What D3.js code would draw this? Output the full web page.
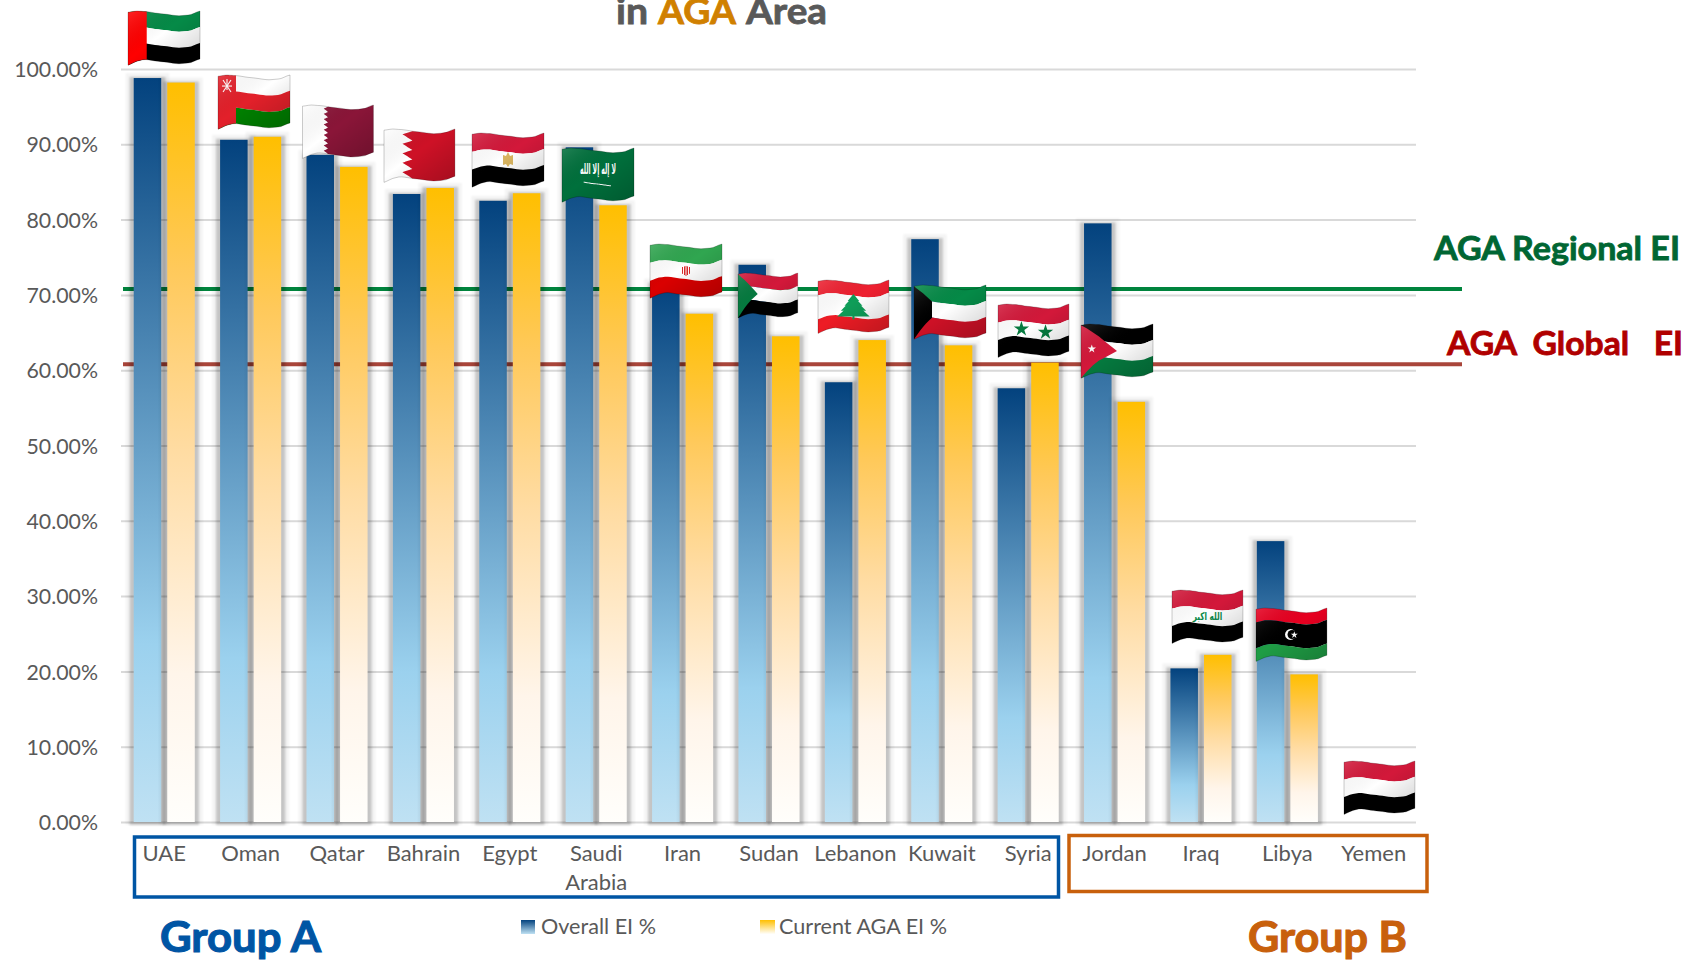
<!DOCTYPE html>
<html><head><meta charset="utf-8">
<script src="https://cdn.jsdelivr.net/npm/d3@7"></script>
<style>html,body{margin:0;background:#fff;overflow:hidden}svg{display:block}text{font-family:Lato,"Open Sans",sans-serif}</style>
</head><body><div id="chart"></div>
<script>
const countries=["UAE","Oman","Qatar","Bahrain","Egypt","Saudi Arabia","Iran","Sudan","Lebanon","Kuwait","Syria","Jordan","Iraq","Libya","Yemen"];
const overallEI=[98.8,90.6,88.6,83.4,82.5,89.6,71.5,74,58.4,77.4,57.6,79.5,20.4,37.3,0];
const currentAGA=[98.2,91,87,84.2,83.5,81.9,67.5,64.5,64,63.3,61,55.8,22.2,19.6,0];
const seriesNames=["Overall EI %","Current AGA EI %"];
const yTicks=[0,10,20,30,40,50,60,70,80,90,100];
const regionalEI=70.8, globalEI=60.8;

const svg=d3.select("#chart").append("svg").attr("width",1690).attr("height",960);
const defs=svg.append("defs");
const x=d3.scaleBand().domain(countries).range([121,1417]).paddingInner(0.293).paddingOuter(0.147);
const inner=d3.scaleBand().domain(seriesNames).range([0,x.bandwidth()]).paddingInner(0.18);
const y=d3.scaleLinear().domain([0,100]).range([822,69]);
const GREY="#595959";

function grad(id,stops,bbox){const g=defs.append("linearGradient").attr("id",id).attr("x1",bbox?bbox[0]:0).attr("y1",bbox?bbox[1]:0).attr("x2",bbox?bbox[2]:0).attr("y2",bbox?bbox[3]:1);
 stops.forEach(s=>g.append("stop").attr("offset",s[0]).attr("stop-color",s[1]).attr("stop-opacity",s[2]===undefined?1:s[2]));}
grad("gBlue",[[0,"#03427e"],[.76,"#9bd1ee"],[1,"#bfe1f3"]]);
grad("gOrange",[[0,"#ffbf00"],[.25,"#ffc95a"],[.5,"#ffdca3"],[.8,"#fff5ea"],[1,"#fffefb"]]);
grad("gShade",[[0,"#ffffff",.14],[.45,"#000",0],[1,"#000",.2]],[0,0,1,1]);
defs.append("filter").attr("id","soft").attr("x","-50%").attr("width","200%").attr("y","-5%").attr("height","110%").append("feGaussianBlur").attr("stdDeviation",0.9);

// gridlines and value axis
const axis=d3.axisLeft(y).tickValues(yTicks).tickFormat(d=>d.toFixed(2)+"%").tickSize(-(1416-121)).tickPadding(23);
const gA=svg.append("g").attr("transform","translate(121,0)").call(axis);
gA.select(".domain").remove();
gA.selectAll("line").attr("stroke","#d9d9d9").attr("stroke-width",2);
gA.selectAll("text").attr("fill",GREY).style("font-size","21.3px").attr("dy","0.36em").attr("x",-23);

// reference lines
[[regionalEI,"#00843d"],[globalEI,"#a9453a"]].forEach(([v,c])=>svg.append("line").attr("x1",123).attr("x2",1462).attr("y1",y(v)).attr("y2",y(v)).attr("stroke",c).attr("stroke-width",4));

// bars
seriesNames.forEach((name,si)=>{
 const vals=si?currentAGA:overallEI;
 const rows=countries.map((c,i)=>({c,v:vals[i]})).filter(d=>d.v>0);
 const gg=svg.append("g");
 gg.selectAll(".s2").data(rows).join("rect").attr("x",d=>x(d.c)+inner(name)-8).attr("width",inner.bandwidth()+16).attr("y",d=>y(d.v)-5).attr("height",d=>y(0)-y(d.v)+8).attr("fill","#000").attr("opacity",.045).attr("filter","url(#soft)");
 gg.selectAll(".s1").data(rows).join("rect").attr("x",d=>x(d.c)+inner(name)-4).attr("width",inner.bandwidth()+8).attr("y",d=>y(d.v)-1).attr("height",d=>y(0)-y(d.v)+4).attr("fill","#000").attr("opacity",.19).attr("filter","url(#soft)");
 gg.selectAll(".b").data(rows).join("rect").attr("x",d=>x(d.c)+inner(name)).attr("width",inner.bandwidth()).attr("y",d=>y(d.v)).attr("height",d=>y(0)-y(d.v)).attr("fill",si?"url(#gOrange)":"url(#gBlue)");
});

// category labels
const lab=svg.append("g").selectAll("text").data(countries).join("text").attr("text-anchor","middle").attr("fill",GREY).style("font-size","22px");
lab.each(function(d){const t=d3.select(this);d.split(" ").forEach((w,i)=>t.append("tspan").attr("x",x(d)+x.bandwidth()/2).attr("y",861+i*28.5).text(w));});

// group boxes
svg.append("rect").attr("x",134.5).attr("y",837).attr("width",924).attr("height",60).attr("fill","none").attr("stroke","#0055a4").attr("stroke-width",3.5);
svg.append("rect").attr("x",1069).attr("y",835.5).attr("width",358).attr("height",56).attr("fill","none").attr("stroke","#c8600c").attr("stroke-width",3.5);

function fit(xp,yp,w,str,size,color,heavy){const t=svg.append("text").attr("x",xp).attr("y",yp).attr("textLength",w).attr("lengthAdjust","spacingAndGlyphs").attr("fill",color).attr("font-weight",heavy?700:400).style("font-size",size+"px").style("white-space","pre").text(str);
 if(heavy)t.attr("stroke",color).attr("stroke-width",heavy);return t;}
// title
fit(616,24,32,"in",36,GREY,.8);
fit(658,24,78,"AGA",36,"#d08000",.8);
fit(746,24,81,"Area",36,GREY,.8);
fit(1434,260,246,"AGA Regional EI",32,"#006633",.8);
fit(1447,355,236,"AGA  Global   EI",32,"#b00000",.8);
fit(160,952,161,"Group A",42,"#0055a4",1.1);
fit(1248,952,159,"Group B",42,"#c8600c",1.1);

// legend
grad("lgB",[[0,"#03427e"],[1,"#bfe1f3"]]);grad("lgO",[[0,"#ffbf00"],[1,"#fffefb"]]);
svg.append("rect").attr("x",521).attr("y",920).attr("width",14).attr("height",14).attr("fill","url(#lgB)");
svg.append("rect").attr("x",760).attr("y",920).attr("width",15).attr("height",14).attr("fill","url(#lgO)");
fit(541,934,115,seriesNames[0],21,GREY);
fit(779,934,168,seriesNames[1],21,GREY);

// flags (decorative pictures)
const W=72,BH=48;
function wave(t){const pts=[[0,1.2],[.12,0],[.25,.6],[.45,2.6],[.7,4.8],[.85,4],[1,0]];
 let i=0;while(i<pts.length-2&&t>pts[i+1][0])i++;const [a,b]=[pts[i],pts[i+1]];const u=(t-a[0])/(b[0]-a[0]);const s=u*u*(3-2*u);return a[1]+(b[1]-a[1])*(.5*u+.5*s);}
const P=(t,f)=>[t*W,f*BH+wave(t)+f*Math.max(0,5*(1-t/.22))];
const ln=d3.line();
function band(f0,f1,t0=0,t1=1){const a=[];for(let i=0;i<=24;i++){a.push(P(t0+(t1-t0)*i/24,f0));}for(let i=24;i>=0;i--){a.push(P(t0+(t1-t0)*i/24,f1));}return ln(a)+"Z";}
function poly(pts){const a=[];pts.forEach((p,i)=>{const q=pts[(i+1)%pts.length];for(let k=0;k<6;k++)a.push(P(p[0]+(q[0]-p[0])*k/6,p[1]+(q[1]-p[1])*k/6));});return ln(a)+"Z";}
const R="#ce1126",K="#000",Wh="#fff";
function serr(x0,amp,n){const l=[[0,0],[x0+amp,0]];for(let i=0;i<n;i++){l.push([x0,(i+.5)/n]);l.push([x0+amp,(i+1)/n]);}l.push([0,1]);return l;}
function star(g,t,f,size,col){const [a,b]=P(t,f);g.append("path").attr("d",d3.symbol(d3.symbolStar,size)()).attr("transform",`translate(${a},${b})`).attr("fill",col);}
function word(g,t,f,s,size,col,w){const [a,b]=P(t,f);g.append("text").attr("x",a).attr("y",b).attr("text-anchor","middle").attr("dominant-baseline","central").style("font-family","'DejaVu Sans'").attr("font-weight",700).style("font-size",size+"px").attr("fill",col).attr("textLength",w).attr("lengthAdjust","spacingAndGlyphs").text(s);}
function tri3(g,a,b,c){[[a,0],[b,.3333],[c,.6667]].forEach(([col,f])=>g.append("path").attr("d",band(f,f+.3334)).attr("fill",col));}
const flagArt={
 UAE:g=>{tri3(g,"#058a47",Wh,K);g.append("path").attr("d",band(0,1,0,.26)).attr("fill","#f00");},
 Oman:g=>{g.append("path").attr("d",band(0,.33)).attr("fill",Wh);g.append("path").attr("d",band(.33,.67)).attr("fill","#e3202a");g.append("path").attr("d",band(.67,1)).attr("fill","#008000");g.append("path").attr("d",band(0,1,0,.25)).attr("fill","#e3202a");
  const [a,b]=P(.125,.22);g.append("g").attr("transform",`translate(${a},${b})`).attr("stroke","#fff").attr("stroke-width",1.1).selectAll("line").data([[-4,-6,4,6],[4,-6,-4,6],[0,-7,0,4],[-5,0,5,0]]).join("line").attr("x1",d=>d[0]).attr("y1",d=>d[1]).attr("x2",d=>d[2]).attr("y2",d=>d[3]);},
 Qatar:g=>{g.append("path").attr("d",band(0,1)).attr("fill",Wh);g.append("path").attr("d",poly([[1,0],[1,1],...serr(.3,.06,9).slice(1,-1).reverse()])).attr("fill","#8a1538");},
 Bahrain:g=>{g.append("path").attr("d",band(0,1)).attr("fill",Wh);g.append("path").attr("d",poly([[1,0],[1,1],...serr(.26,.14,5).slice(1,-1).reverse()])).attr("fill",R);},
 Egypt:g=>{tri3(g,"#d3183a",Wh,K);const [a,b]=P(.5,.5);g.append("path").attr("d","M-5,-5L-2,-4L0,-8L2,-4L5,-5L5,5L2,4L0,7L-2,4L-5,5Z").attr("transform",`translate(${a},${b})`).attr("fill","#d9b560");},
 "Saudi Arabia":g=>{g.append("path").attr("d",band(0,1)).attr("fill","#00703c");word(g,.5,.38,"لا إله إلا الله",15,"#fff",36);g.append("path").attr("d",band(.68,.7,.3,.68)).attr("fill","#fff");},
 Iran:g=>{g.append("path").attr("d",band(0,.33)).attr("fill","#30a650");g.append("path").attr("d",band(.33,.67)).attr("fill",Wh);g.append("path").attr("d",band(.67,1)).attr("fill","#da0000");const [a,b]=P(.5,.5);
  g.append("g").attr("transform",`translate(${a},${b})`).attr("stroke","#da2a2a").attr("stroke-width",1).attr("fill","none").selectAll("line").data([-3.5,-1.5,0,1.5,3.5]).join("line").attr("x1",d=>d).attr("x2",d=>d).attr("y1",d=>-5+Math.abs(d)*.3).attr("y2",d=>5-Math.abs(d)*.6);},
 Sudan:g=>{tri3(g,"#d3183a",Wh,K);g.append("path").attr("d",poly([[0,0],[.33,.5],[0,1]])).attr("fill","#057a3f");},
 Lebanon:g=>{g.append("path").attr("d",band(0,.27)).attr("fill","#ee2030");g.append("path").attr("d",band(.27,.73)).attr("fill",Wh);g.append("path").attr("d",band(.73,1)).attr("fill","#ee1c25");
  const [a,b]=P(.5,.5);const c=g.append("g").attr("transform",`translate(${a},${b})`).attr("fill","#0f9d58");[[-8,45,1],[-4,90,1.1],[0,150,1.2],[5,210,1.3]].forEach(([d,s,k])=>c.append("path").attr("d",d3.symbol(d3.symbolTriangle,s)()).attr("transform",`translate(0,${d}) scale(${k*1.15},.8)`));c.append("rect").attr("x",-1).attr("y",9).attr("width",2).attr("height",4);},
 Kuwait:g=>{tri3(g,"#058a47",Wh,"#ce1126");g.append("path").attr("d",poly([[0,0],[.25,.33],[.25,.67],[0,1]])).attr("fill",K);},
 Syria:g=>{tri3(g,"#d3183a",Wh,K);star(g,.33,.5,75,"#057a3f");star(g,.67,.5,75,"#057a3f");},
 Jordan:g=>{tri3(g,K,Wh,"#057a3f");g.append("path").attr("d",poly([[0,0],[.5,.5],[0,1]])).attr("fill","#d3183a");star(g,.15,.5,22,"#fff");},
 Iraq:g=>{tri3(g,"#d3183a",Wh,K);word(g,.5,.5,"الله اكبر",11,"#0a8a4a",30);},
 Libya:g=>{g.append("path").attr("d",band(0,.25)).attr("fill","#e70020");g.append("path").attr("d",band(.25,.75)).attr("fill",K);g.append("path").attr("d",band(.75,1)).attr("fill","#1f9d45");
  const [a,b]=P(.5,.5);g.append("circle").attr("cx",a-1).attr("cy",b).attr("r",5.5).attr("fill","#fff");g.append("circle").attr("cx",a+.6).attr("cy",b).attr("r",4.6).attr("fill",K);star(g,.54,.5,16,"#fff");},
 Yemen:g=>{tri3(g,"#d3183a",Wh,K);}
};
// flag pictures: left, top, scale
const flagPlace={UAE:[128,11,1],Oman:[218,75,1],Qatar:[302.5,105,.985],Bahrain:[384,129,.985],Egypt:[472,133,1],"Saudi Arabia":[562,148,1],Iran:[650,244,1],Sudan:[738,273,.83],Lebanon:[818,280,.985],Kuwait:[914,285,1],Syria:[998,304,.985],Jordan:[1081,324,1],Iraq:[1172,590,.985],Libya:[1256,608,.985],Yemen:[1344,761,.985]};
countries.forEach(c=>{const [l,t,s]=flagPlace[c];const g=svg.append("g").attr("transform",`translate(${l},${t}) scale(${s})`);
 flagArt[c](g);
 g.append("path").attr("d",band(0,1)).attr("fill","url(#gShade)").attr("stroke","#000").attr("stroke-opacity",.2).attr("stroke-width",1);
});
</script></body></html>
